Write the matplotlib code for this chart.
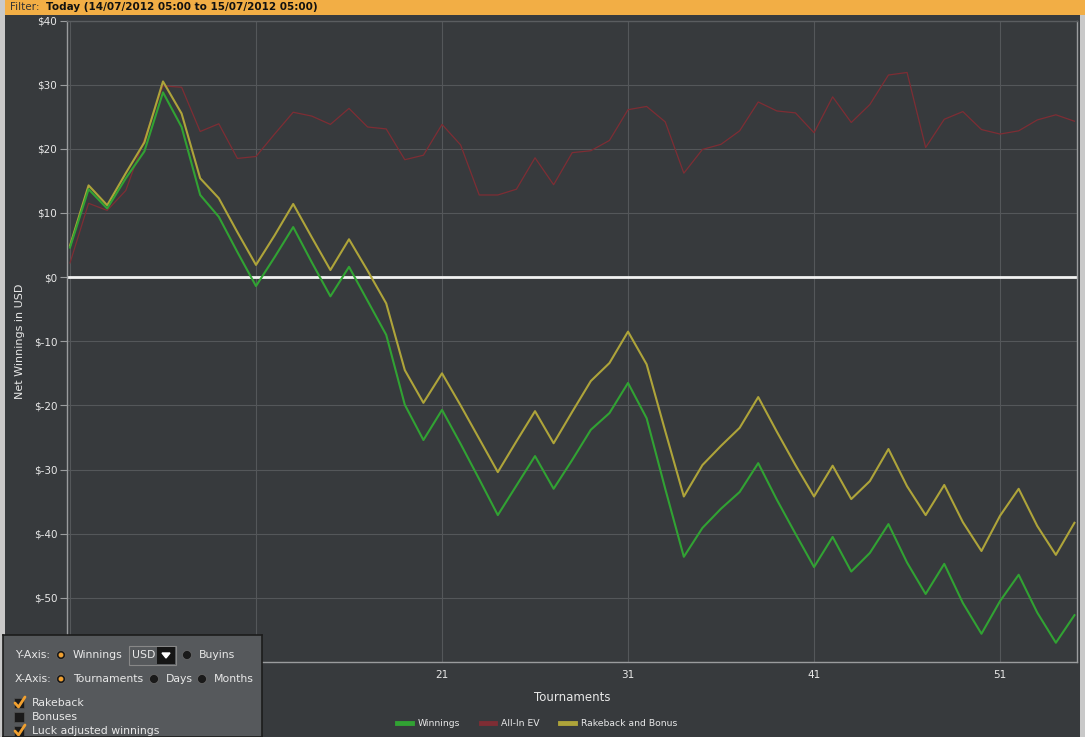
import numpy as np
import matplotlib
matplotlib.use('Agg')
import matplotlib.pyplot as plt
from matplotlib.lines import Line2D
from matplotlib.patches import Rectangle, Circle

# values (tournament 1..55)
tournaments = np.arange(1, 56)
winnings = [4.6, 13.7, 10.7, 15.4, 19.6, 28.8, 23.4, 12.8, 9.4, 3.9,
            -1.4, 3.1, 7.8, 2.3, -3.0, 1.6, -3.7, -9.0, -19.9, -25.4,
            -20.7, -26.0, -31.5, -37.1, -32.5, -27.9, -33.0, -28.5, -23.8, -21.2,
            -16.5, -22.0, -33.0, -43.6, -39.1, -36.1, -33.5, -29.0, -34.7, -40.0,
            -45.2, -40.5, -45.9, -43.0, -38.5, -44.5, -49.4, -44.7, -50.8, -55.6,
            -50.5, -46.4, -52.3, -57.0, -52.7]
allin_ev = [2.2, 11.5, 10.4, 13.5, 21.5, 29.8, 29.6, 22.7, 23.9, 18.5,
            18.8, 22.3, 25.7, 25.1, 23.8, 26.3, 23.4, 23.1, 18.3, 19.0,
            23.8, 20.6, 12.8, 12.8, 13.7, 18.6, 14.4, 19.4, 19.7, 21.3,
            26.1, 26.6, 24.2, 16.2, 19.9, 20.7, 22.8, 27.3, 25.9, 25.6,
            22.5, 28.1, 24.1, 26.9, 31.5, 31.9, 20.2, 24.6, 25.8, 23.0,
            22.3, 22.8, 24.5, 25.3, 24.3]
rakeback_bonus = [4.9, 14.3, 11.2, 16.2, 21.0, 30.5, 25.5, 15.4, 12.3, 7.0,
                  1.9, 6.5, 11.4, 6.2, 1.1, 5.9, 1.0, -4.1, -14.5, -19.6,
                  -15.0, -20.0, -25.2, -30.4, -25.6, -20.9, -25.9, -21.0, -16.2, -13.4,
                  -8.5, -13.6, -24.0, -34.2, -29.3, -26.3, -23.5, -18.7, -24.1, -29.3,
                  -34.2, -29.4, -34.6, -31.8, -26.8, -32.6, -37.1, -32.4, -38.2, -42.7,
                  -37.2, -33.0, -38.8, -43.3, -38.3]
x_ticks = [1, 11, 21, 31, 41, 51]
y_ticks = [-60, -50, -40, -30, -20, -10, 0, 10, 20, 30, 40]

BG = '#373a3d'
GREEN = '#31a233'
RED = '#7e2d34'
YELLOW = '#aea43a'
TXT = '#e8e8e8'
ORANGE = '#f0a030'

fig = plt.figure(figsize=(10.85, 7.37), dpi=100)
fig.patch.set_facecolor(BG)

# window frame strips and title bar
fig.patches.append(Rectangle((0, 0), 5 / 1085, 1, transform=fig.transFigure,
                             facecolor='#c9c9c9', edgecolor='none', zorder=0))
fig.patches.append(Rectangle((1080 / 1085, 0), 5 / 1085, 1, transform=fig.transFigure,
                             facecolor='#c9c9c9', edgecolor='none', zorder=0))
fig.patches.append(Rectangle((5 / 1085, 1 - 15 / 737), 1, 15 / 737, transform=fig.transFigure,
                             facecolor='#f2ae45', edgecolor='none', zorder=1))
fig.text(10 / 1085, 1 - 7 / 737, 'Filter:', color='#333333', fontsize=7.5,
         va='center', ha='left')
fig.text(46 / 1085, 1 - 7 / 737, 'Today (14/07/2012 05:00 to 15/07/2012 05:00)',
         color='#111111', fontsize=7.5, fontweight='bold', va='center', ha='left')

ax = fig.add_axes([67 / 1085, 1 - 662 / 737, (1076.7 - 67) / 1085, (662 - 20.5) / 737])
ax.set_facecolor(BG)
ax.plot(tournaments, allin_ev, color=RED, lw=0.9, zorder=3)
ax.plot(tournaments, rakeback_bonus, color=YELLOW, lw=1.5, zorder=4)
ax.plot(tournaments, winnings, color=GREEN, lw=1.5, zorder=5)
ax.axhline(0, color='#f2f2f2', lw=2.0, zorder=2)

ax.set_xlim(0.84, 55.12)
ax.set_ylim(-60, 40)
ax.set_xticks(x_ticks)
ax.set_yticks(y_ticks)
ax.set_yticklabels(['$%d' % v for v in y_ticks])
ax.grid(True, color='#54575a', lw=0.8, zorder=1)
for s in ['left', 'bottom', 'right', 'top']:
    ax.spines[s].set_color('#9a9c9e')
    ax.spines[s].set_linewidth(1.0)
ax.spines['top'].set_color('#5a5d60')
ax.tick_params(axis='y', colors='#9a9c9e', labelcolor=TXT, labelsize=7.5, length=5, pad=2)
ax.tick_params(axis='x', colors=BG, labelcolor=TXT, labelsize=7.5, length=0, pad=6)
ax.set_xlabel('Tournaments', color=TXT, fontsize=8.5, labelpad=8)
ax.set_ylabel('Net Winnings in USD', color=TXT, fontsize=8, labelpad=6)

handles = [Line2D([], [], color=GREEN, lw=3.5),
           Line2D([], [], color=RED, lw=3.5),
           Line2D([], [], color=YELLOW, lw=3.5)]
fig.legend(handles, ['Winnings', 'All-In EV', 'Rakeback and Bonus'],
           loc='center', bbox_to_anchor=(537 / 1085, 1 - 724 / 737), ncol=3,
           frameon=False, fontsize=6.7, labelcolor=TXT, handlelength=1.6,
           handletextpad=0.6, columnspacing=2.2)

# settings panel in the lower left corner
pan = fig.add_axes([3 / 1085, 0, 259 / 1085, 102 / 737], zorder=10)
pan.set_xlim(0, 259)
pan.set_ylim(102, 0)
pan.set_facecolor('#56595c')
pan.set_xticks([])
pan.set_yticks([])
for s in pan.spines.values():
    s.set_color('#1c1c1c')
    s.set_linewidth(1.2)


def radio(x, y, on):
    pan.add_patch(Circle((x, y), 4.5, facecolor='#1a1a1a', edgecolor='#6a6a6a', lw=0.5))
    if on:
        pan.add_patch(Circle((x, y), 2.4, facecolor=ORANGE, edgecolor='none'))


fs = 7.8
pan.text(12, 20, 'Y-Axis:', color=TXT, fontsize=fs, va='center')
radio(58, 20, True)
pan.text(70, 20, 'Winnings', color=TXT, fontsize=fs, va='center')
pan.add_patch(Rectangle((126, 11), 47, 19, facecolor='#56595c', edgecolor='#888888', lw=0.8))
pan.add_patch(Rectangle((154, 12), 18, 17, facecolor='#151515', edgecolor='none'))
pan.fill([159, 167, 163], [18, 18, 23], color='white')
pan.text(129, 20.5, 'USD', color=TXT, fontsize=fs, va='center')
radio(184, 20, False)
pan.text(196, 20, 'Buyins', color=TXT, fontsize=fs, va='center')

pan.text(12, 44, 'X-Axis:', color=TXT, fontsize=fs, va='center')
radio(58, 44, True)
pan.text(70, 44, 'Tournaments', color=TXT, fontsize=fs, va='center')
radio(151, 44, False)
pan.text(163, 44, 'Days', color=TXT, fontsize=fs, va='center')
radio(199, 44, False)
pan.text(211, 44, 'Months', color=TXT, fontsize=fs, va='center')

for yy, label, checked in [(68, 'Rakeback', True), (82, 'Bonuses', False),
                           (96, 'Luck adjusted winnings', True)]:
    pan.add_patch(Rectangle((11, yy - 5), 10, 10, facecolor='#1a1a1a',
                            edgecolor='#555555', lw=0.5))
    if checked:
        pan.plot([12, 15.5, 22], [yy, yy + 4, yy - 6], color=ORANGE, lw=2.0,
                 solid_capstyle='round')
    pan.text(29, yy, label, color=TXT, fontsize=fs, va='center')

fig.savefig('out.png', dpi=100, facecolor=fig.get_facecolor())
